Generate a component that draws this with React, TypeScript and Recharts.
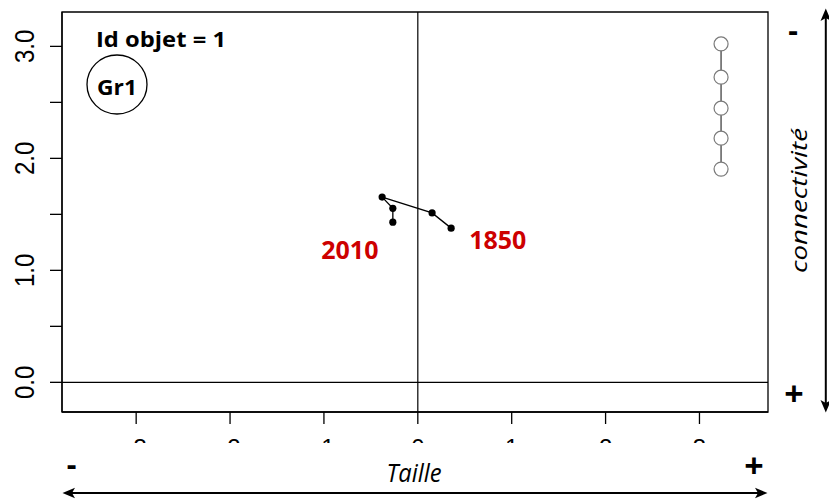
import React from 'react';
import {
  ScatterChart,
  Scatter,
  XAxis,
  YAxis,
  ReferenceLine,
  ReferenceArea,
} from 'recharts';

// axes
const xTicks = [-3, -2, -1, 0, 1, 2, 3];
const yTicks = [0, 0.5, 1, 1.5, 2, 2.5, 3];
const xDomain = [-3.79, 3.73];
const yDomain = [-0.265, 3.307];

// trajectory of the object, from 1850 to 2010
const trajX = [0.355, 0.152, -0.38, -0.266, -0.266];
const trajY = [1.377, 1.513, 1.654, 1.554, 1.43];

// year labels
const yearNames = ['1850', '2010'];
const yearX = [0.852, -0.724];
const yearY = [1.272, 1.183];

// scale of hollow circles on the right
const scaleX = [3.23, 3.23, 3.23, 3.23, 3.23];
const scaleY = [3.022, 2.725, 2.448, 2.18, 1.904];

const trajectory = trajX.map((x, i) => ({ x, y: trajY[i] }));
const years = yearNames.map((label, i) => ({ x: yearX[i], y: yearY[i], label }));
const scalePts = scaleX.map((x, i) => ({ x, y: scaleY[i] }));

const tickFont = '"Liberation Sans", Arial, sans-serif';
const textFont = '"Open Sans", sans-serif';

const XTick = (props: any) => {
  const { x, y, payload } = props;
  return (
    <g>
      <text x={x} y={y} dy="0.71em" textAnchor="middle" fontSize={24} fontFamily={tickFont} fill="#000">
        {payload.value}
      </text>
      {/* labels are cut off in the original figure */}
      <rect x={x - 26} y={y + 4} width={52} height={20} fill="#fff" />
    </g>
  );
};

const YTick = (props: any) => {
  const { x, y, payload } = props;
  if (!Number.isInteger(payload.value)) return <g />;
  return (
    <text
      transform={`translate(${x}, ${y}) rotate(-90) scale(1, 1.16)`}
      textAnchor="middle"
      fontSize={24}
      fontFamily={tickFont}
      fill="#000"
    >
      {payload.value.toFixed(1)}
    </text>
  );
};

const Dot = (p: any) => <circle cx={p.cx} cy={p.cy} r={3.6} fill="#000" />;
const Hollow = (p: any) => (
  <circle cx={p.cx} cy={p.cy} r={7} fill="#fff" stroke="#7a7a7a" strokeWidth={1.2} />
);
const YearText = (p: any) => (
  <text
    x={p.cx}
    y={p.cy}
    dy="0.36em"
    textAnchor="middle"
    fontSize={25}
    fontWeight={700}
    fontFamily={textFont}
    fill="#CD0000"
  >
    {p.payload.label}
  </text>
);

function Overlay() {
  return (
    <svg
      width={829}
      height={503}
      style={{ position: 'absolute', left: 0, top: 0, pointerEvents: 'none' }}
      fontFamily={textFont}
    >
      <text x={96} y={47} fontSize={21} fontWeight={700} textLength={130} lengthAdjust="spacingAndGlyphs">
        Id objet = 1
      </text>
      <ellipse cx={117} cy={84.5} rx={30} ry={29.5} fill="none" stroke="#000" strokeWidth={1.3} />
      <text x={117} y={95} fontSize={21} fontWeight={700} textAnchor="middle" textLength={40} lengthAdjust="spacingAndGlyphs">
        Gr1
      </text>

      {/* right side: connectivité */}
      <text x={793} y={41} fontSize={30} fontWeight={700} textAnchor="middle">-</text>
      <text x={794} y={405.5} fontSize={34} fontWeight={700} textAnchor="middle">+</text>
      <text
        transform="translate(806.5, 200.5) rotate(-90)"
        textAnchor="middle"
        fontSize={21}
        fontStyle="italic"
        textLength={145}
        lengthAdjust="spacingAndGlyphs"
      >
        connectivité
      </text>
      <line x1={825.8} y1={14} x2={825.8} y2={407} stroke="#000" strokeWidth={2} />
      <polygon points="825.8,8.5 820.5,21 825.8,18 831.1,21" fill="#000" />
      <polygon points="825.8,412.5 820.5,400 825.8,403 831.1,400" fill="#000" />

      {/* bottom: Taille */}
      <text x={71.5} y={475} fontSize={30} fontWeight={700} textAnchor="middle">-</text>
      <text x={754} y={477.5} fontSize={34} fontWeight={700} textAnchor="middle">+</text>
      <text
        x={414}
        y={482}
        textAnchor="middle"
        fontSize={25}
        fontStyle="italic"
        textLength={55}
        lengthAdjust="spacingAndGlyphs"
      >
        Taille
      </text>
      <line x1={68} y1={493} x2={762} y2={493} stroke="#000" strokeWidth={2} />
      <polygon points="62.5,493 75,487.7 72,493 75,498.3" fill="#000" />
      <polygon points="767.5,493 755,487.7 758,493 755,498.3" fill="#000" />
    </svg>
  );
}

export default function App() {
  return (
    <div style={{ position: 'absolute', left: 0, top: 0, width: 829, height: 503, background: '#fff' }}>
      <ScatterChart width={829} height={503} margin={{ top: 12, right: 61, bottom: 51, left: 0 }}>
        <XAxis
          type="number"
          dataKey="x"
          domain={xDomain}
          ticks={xTicks}
          interval={0}
          allowDataOverflow
          height={40}
          tickSize={12}
          tickMargin={15}
          axisLine={{ stroke: '#000', strokeWidth: 1.3 }}
          tickLine={{ stroke: '#000', strokeWidth: 1.3 }}
          tick={<XTick />}
        />
        <YAxis
          type="number"
          dataKey="y"
          domain={yDomain}
          ticks={yTicks}
          interval={0}
          allowDataOverflow
          width={62}
          tickSize={12}
          tickMargin={16}
          axisLine={{ stroke: '#000', strokeWidth: 1.3 }}
          tickLine={{ stroke: '#000', strokeWidth: 1.3 }}
          tick={<YTick />}
        />
        <ReferenceArea
          x1={xDomain[0]}
          x2={xDomain[1]}
          y1={yDomain[0]}
          y2={yDomain[1]}
          fill="none"
          fillOpacity={0}
          stroke="#000"
          strokeWidth={1.3}
          ifOverflow="visible"
        />
        <ReferenceLine x={0} stroke="#000" strokeWidth={1.2} />
        <ReferenceLine y={0} stroke="#000" strokeWidth={1.2} />
        <Scatter
          data={trajectory}
          line={{ stroke: '#000', strokeWidth: 1.3 }}
          shape={<Dot />}
          isAnimationActive={false}
        />
        <Scatter
          data={scalePts}
          line={{ stroke: '#333', strokeWidth: 1.2 }}
          shape={<Hollow />}
          isAnimationActive={false}
        />
        <Scatter data={years} shape={<YearText />} isAnimationActive={false} />
      </ScatterChart>
      <Overlay />
    </div>
  );
}
